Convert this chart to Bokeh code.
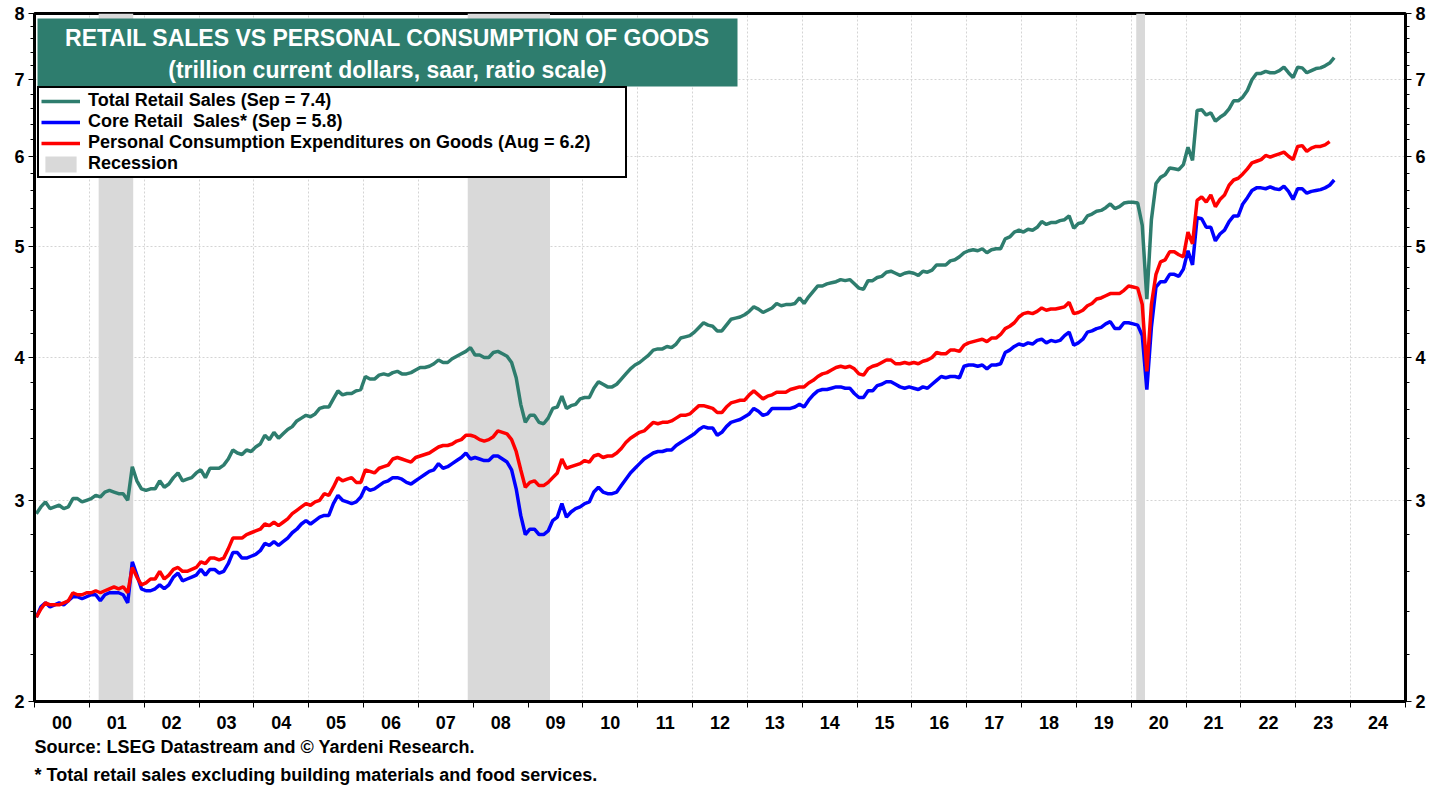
import numpy as np
from bokeh.plotting import figure
from bokeh.models import (FixedTicker, LogAxis, Legend, LegendItem, BoxAnnotation,
                          Label, Title, Range1d, ColumnDataSource)
from bokeh.embed import file_html
from bokeh.resources import INLINE

FONT = "Liberation Sans"
TEAL = "#2E7D6E"
GRAY = "#D9D9D9"

# ---------------- data (monthly, trillion $, saar) ----------------
START_YEAR = 2000  # first month = Jan 2000

total_retail = [
    2.92, 2.96, 2.99, 2.95, 2.96, 2.97, 2.95, 2.96, 3.01, 3.01, 2.99, 3.00,  # 2000
    3.01, 3.03, 3.02, 3.05, 3.06, 3.05, 3.04, 3.04, 3.00, 3.21, 3.12, 3.07,  # 2001
    3.06, 3.07, 3.07, 3.12, 3.08, 3.10, 3.14, 3.17, 3.12, 3.13, 3.14, 3.17,  # 2002
    3.19, 3.14, 3.20, 3.20, 3.20, 3.22, 3.26, 3.32, 3.30, 3.29, 3.32, 3.31,  # 2003
    3.34, 3.36, 3.42, 3.39, 3.44, 3.40, 3.43, 3.46, 3.48, 3.52, 3.54, 3.56,  # 2004
    3.55, 3.57, 3.61, 3.62, 3.62, 3.68, 3.74, 3.71, 3.72, 3.72, 3.74, 3.75,  # 2005
    3.85, 3.83, 3.83, 3.86, 3.87, 3.86, 3.88, 3.89, 3.87, 3.87, 3.88, 3.90,  # 2006
    3.92, 3.92, 3.93, 3.95, 3.98, 3.96, 3.96, 3.99, 4.01, 4.03, 4.05, 4.08,  # 2007
    4.02, 4.02, 4.00, 4.00, 4.04, 4.05, 4.03, 4.01, 3.96, 3.84, 3.64, 3.51,  # 2008
    3.56, 3.56, 3.51, 3.50, 3.54, 3.61, 3.62, 3.70, 3.61, 3.63, 3.64, 3.68,  # 2009
    3.69, 3.69, 3.76, 3.81, 3.79, 3.77, 3.77, 3.79, 3.83, 3.87, 3.91, 3.94,  # 2010
    3.96, 3.99, 4.02, 4.06, 4.07, 4.07, 4.09, 4.08, 4.11, 4.16, 4.17, 4.18,  # 2011
    4.21, 4.25, 4.29, 4.27, 4.26, 4.22, 4.22, 4.27, 4.32, 4.33, 4.34, 4.36,  # 2012
    4.39, 4.43, 4.41, 4.38, 4.40, 4.42, 4.46, 4.44, 4.45, 4.45, 4.46, 4.51,  # 2013
    4.46, 4.52, 4.57, 4.62, 4.62, 4.64, 4.65, 4.66, 4.68, 4.67, 4.68, 4.64,  # 2014
    4.60, 4.59, 4.67, 4.67, 4.70, 4.71, 4.75, 4.76, 4.74, 4.72, 4.74, 4.75,  # 2015
    4.74, 4.72, 4.76, 4.75, 4.77, 4.82, 4.82, 4.82, 4.86, 4.87, 4.90, 4.94,  # 2016
    4.96, 4.97, 4.96, 4.98, 4.94, 4.97, 4.98, 4.98, 5.08, 5.10, 5.15, 5.17,  # 2017
    5.15, 5.18, 5.17, 5.20, 5.26, 5.23, 5.25, 5.25, 5.27, 5.28, 5.32, 5.19,  # 2018
    5.24, 5.25, 5.32, 5.34, 5.37, 5.38, 5.41, 5.45, 5.40, 5.42, 5.46, 5.47,  # 2019
    5.47, 5.46, 5.22, 4.50, 5.28, 5.68, 5.75, 5.78, 5.86, 5.85, 5.84, 5.90,  # 2020
    6.11, 5.95, 6.58, 6.59, 6.52, 6.55, 6.44, 6.49, 6.53, 6.60, 6.71, 6.71,  # 2021
    6.76, 6.85, 7.00, 7.09, 7.09, 7.12, 7.10, 7.10, 7.13, 7.18, 7.10, 7.03,  # 2022
    7.18, 7.17, 7.10, 7.13, 7.16, 7.17, 7.20, 7.24, 7.32,                    # 2023 (to Sep)
]

core_retail = [
    2.37, 2.42, 2.44, 2.42, 2.43, 2.44, 2.43, 2.45, 2.47, 2.47, 2.46, 2.47,  # 2000
    2.48, 2.48, 2.45, 2.48, 2.49, 2.49, 2.49, 2.48, 2.44, 2.65, 2.58, 2.51,  # 2001
    2.50, 2.50, 2.51, 2.53, 2.51, 2.53, 2.57, 2.59, 2.55, 2.56, 2.57, 2.58,  # 2002
    2.61, 2.58, 2.61, 2.61, 2.59, 2.60, 2.64, 2.70, 2.70, 2.67, 2.67, 2.68,  # 2003
    2.69, 2.71, 2.75, 2.74, 2.76, 2.74, 2.76, 2.78, 2.81, 2.83, 2.86, 2.88,  # 2004
    2.86, 2.88, 2.90, 2.91, 2.91, 2.98, 3.03, 3.00, 2.99, 2.98, 2.99, 3.02,  # 2005
    3.08, 3.06, 3.07, 3.09, 3.11, 3.12, 3.14, 3.14, 3.13, 3.11, 3.10, 3.12,  # 2006
    3.14, 3.16, 3.18, 3.19, 3.23, 3.20, 3.21, 3.23, 3.25, 3.27, 3.30, 3.26,  # 2007
    3.27, 3.26, 3.25, 3.25, 3.28, 3.28, 3.26, 3.24, 3.19, 3.07, 2.91, 2.80,  # 2008
    2.83, 2.83, 2.80, 2.80, 2.82, 2.88, 2.90, 2.98, 2.90, 2.93, 2.95, 2.96,  # 2009
    2.98, 2.99, 3.05, 3.08, 3.05, 3.04, 3.04, 3.05, 3.09, 3.13, 3.17, 3.20,  # 2010
    3.23, 3.26, 3.28, 3.30, 3.31, 3.31, 3.32, 3.32, 3.35, 3.37, 3.39, 3.41,  # 2011
    3.43, 3.46, 3.48, 3.47, 3.47, 3.42, 3.44, 3.48, 3.51, 3.52, 3.53, 3.55,  # 2012
    3.57, 3.61, 3.59, 3.56, 3.57, 3.61, 3.61, 3.61, 3.61, 3.61, 3.62, 3.64,  # 2013
    3.62, 3.67, 3.71, 3.74, 3.75, 3.75, 3.76, 3.77, 3.77, 3.76, 3.76, 3.72,  # 2014
    3.69, 3.69, 3.74, 3.74, 3.78, 3.79, 3.81, 3.81, 3.79, 3.77, 3.76, 3.77,  # 2015
    3.76, 3.75, 3.77, 3.76, 3.79, 3.82, 3.85, 3.84, 3.85, 3.85, 3.84, 3.93,  # 2016
    3.94, 3.94, 3.93, 3.94, 3.91, 3.94, 3.94, 3.95, 4.04, 4.06, 4.09, 4.11,  # 2017
    4.10, 4.12, 4.11, 4.14, 4.15, 4.12, 4.14, 4.13, 4.14, 4.18, 4.21, 4.10,  # 2018
    4.12, 4.15, 4.21, 4.22, 4.24, 4.25, 4.28, 4.30, 4.24, 4.24, 4.29, 4.29,  # 2019
    4.28, 4.27, 4.18, 3.75, 4.25, 4.61, 4.66, 4.66, 4.73, 4.73, 4.71, 4.78,  # 2020
    4.96, 4.82, 5.30, 5.29, 5.20, 5.20, 5.06, 5.13, 5.17, 5.26, 5.32, 5.32,  # 2021
    5.45, 5.52, 5.60, 5.63, 5.63, 5.62, 5.64, 5.62, 5.61, 5.65, 5.59, 5.50,  # 2022
    5.62, 5.62, 5.57, 5.59, 5.60, 5.61, 5.63, 5.66, 5.72,                    # 2023 (to Sep)
]

pce_goods = [
    2.37, 2.41, 2.44, 2.43, 2.43, 2.43, 2.44, 2.45, 2.49, 2.48, 2.48, 2.49,  # 2000
    2.49, 2.50, 2.49, 2.50, 2.51, 2.52, 2.51, 2.52, 2.49, 2.62, 2.57, 2.53,  # 2001
    2.54, 2.56, 2.56, 2.60, 2.56, 2.58, 2.61, 2.62, 2.60, 2.60, 2.61, 2.62,  # 2002
    2.65, 2.64, 2.67, 2.67, 2.66, 2.67, 2.72, 2.78, 2.78, 2.78, 2.80, 2.81,  # 2003
    2.82, 2.83, 2.86, 2.85, 2.87, 2.85, 2.87, 2.89, 2.92, 2.94, 2.96, 2.98,  # 2004
    2.97, 2.99, 3.00, 3.04, 3.03, 3.08, 3.14, 3.12, 3.13, 3.14, 3.11, 3.11,  # 2005
    3.19, 3.18, 3.17, 3.20, 3.21, 3.22, 3.26, 3.27, 3.26, 3.25, 3.24, 3.27,  # 2006
    3.28, 3.29, 3.30, 3.32, 3.34, 3.35, 3.35, 3.36, 3.38, 3.39, 3.42, 3.42,  # 2007
    3.41, 3.39, 3.38, 3.39, 3.41, 3.45, 3.44, 3.43, 3.39, 3.31, 3.19, 3.08,  # 2008
    3.11, 3.12, 3.09, 3.09, 3.11, 3.14, 3.17, 3.26, 3.20, 3.21, 3.22, 3.23,  # 2009
    3.25, 3.24, 3.28, 3.29, 3.27, 3.28, 3.28, 3.30, 3.33, 3.37, 3.40, 3.42,  # 2010
    3.44, 3.45, 3.48, 3.51, 3.50, 3.51, 3.51, 3.52, 3.54, 3.56, 3.56, 3.57,  # 2011
    3.60, 3.63, 3.63, 3.62, 3.61, 3.58, 3.58, 3.62, 3.65, 3.66, 3.67, 3.67,  # 2012
    3.71, 3.74, 3.71, 3.68, 3.70, 3.71, 3.73, 3.73, 3.73, 3.75, 3.76, 3.77,  # 2013
    3.77, 3.80, 3.82, 3.85, 3.87, 3.88, 3.90, 3.92, 3.93, 3.92, 3.93, 3.91,  # 2014
    3.87, 3.86, 3.91, 3.93, 3.94, 3.96, 3.98, 3.98, 3.95, 3.95, 3.96, 3.95,  # 2015
    3.96, 3.95, 3.97, 3.98, 4.00, 4.04, 4.03, 4.03, 4.06, 4.06, 4.05, 4.10,  # 2016
    4.12, 4.13, 4.14, 4.15, 4.13, 4.16, 4.16, 4.19, 4.24, 4.26, 4.29, 4.34,  # 2017
    4.37, 4.38, 4.37, 4.39, 4.42, 4.40, 4.41, 4.41, 4.42, 4.43, 4.47, 4.37,  # 2018
    4.38, 4.40, 4.44, 4.46, 4.50, 4.51, 4.53, 4.55, 4.55, 4.55, 4.58, 4.62,  # 2019
    4.61, 4.60, 4.45, 3.89, 4.45, 4.73, 4.85, 4.87, 4.95, 4.95, 4.92, 4.90,  # 2020
    5.15, 5.03, 5.49, 5.53, 5.47, 5.55, 5.42, 5.50, 5.55, 5.66, 5.72, 5.74,  # 2021
    5.79, 5.85, 5.92, 5.94, 5.96, 6.01, 5.99, 6.01, 6.03, 6.05, 6.00, 5.96,  # 2022
    6.12, 6.13, 6.06, 6.10, 6.12, 6.12, 6.14, 6.18,                          # 2023 (to Aug)
]

recession_start = [2001.17, 2007.90, 2020.09]
recession_end = [2001.80, 2009.40, 2020.25]

year_ticks = [2000.5 + i for i in range(25)]
year_labels = ["00", "01", "02", "03", "04", "05", "06", "07", "08", "09", "10", "11",
               "12", "13", "14", "15", "16", "17", "18", "19", "20", "21", "22", "23", "24"]
year_bounds = [2000 + i for i in range(26)]

y_major = [2, 3, 4, 5, 6, 7, 8]
y_minor = [2.2, 2.4, 2.6, 2.8, 3.2, 3.4, 3.6, 3.8, 4.2, 4.4, 4.6, 4.8,
           5.2, 5.4, 5.6, 5.8, 6.2, 6.4, 6.6, 6.8, 7.2, 7.4, 7.6, 7.8]

legend_labels = ["Total Retail Sales (Sep = 7.4)",
                 "Core Retail  Sales* (Sep = 5.8)",
                 "Personal Consumption Expenditures on Goods (Aug = 6.2)",
                 "Recession"]


def month_x(n):
    return [START_YEAR + (i + 0.4) / 12.0 for i in range(n)]


# ---------------- geometry (page pixels) ----------------
FR_LEFT, FR_TOP, FR_W, FR_H = 34, 13, 1371, 688
FR_BOTTOM = FR_TOP + FR_H
X0, X1, Y0, Y1 = 2000, 2025, 2, 8


def px_x(px):
    return X0 + (px - FR_LEFT) * (X1 - X0) / FR_W


def px_y(py):
    return Y0 * (Y1 / Y0) ** ((FR_BOTTOM - py) / FR_H)


p = figure(frame_width=FR_W, frame_height=FR_H,
           x_range=Range1d(X0, X1), y_range=Range1d(Y0, Y1),
           y_axis_type="log", output_backend="svg", toolbar_location=None,
           min_border_left=FR_LEFT, min_border_right=41, min_border_top=FR_TOP,
           min_border_bottom=86,
           background_fill_color="white", border_fill_color="white")

p.outline_line_color = "black"
p.outline_line_width = 3

# recession bars
rec = p.quad(left=recession_start, right=recession_end, bottom=Y0, top=Y1,
             fill_color=GRAY, line_color=None)

src_t = ColumnDataSource(dict(x=month_x(len(total_retail)), y=total_retail))
src_c = ColumnDataSource(dict(x=month_x(len(core_retail)), y=core_retail))
src_p = ColumnDataSource(dict(x=month_x(len(pce_goods)), y=pce_goods))

lt = p.line("x", "y", source=src_t, line_color=TEAL, line_width=3.5)
lc = p.line("x", "y", source=src_c, line_color="#0000FF", line_width=3.5)
lp = p.line("x", "y", source=src_p, line_color="#FF0000", line_width=3.5)

# x axis
xt = FixedTicker(ticks=year_ticks, minor_ticks=year_bounds)
p.xaxis.ticker = xt
p.xaxis.major_label_overrides = {t: l for t, l in zip(year_ticks, year_labels)}
p.xaxis.major_tick_out = 0
p.xaxis.major_tick_in = 0
p.xaxis.minor_tick_out = 6
p.xaxis.minor_tick_in = 0
p.xaxis.minor_tick_line_color = "black"
p.xaxis.minor_tick_line_width = 1
p.xaxis.major_label_standoff = 8
p.xaxis.axis_line_width = 3
p.xaxis.major_label_text_font = FONT
p.xaxis.major_label_text_font_style = "bold"
p.xaxis.major_label_text_font_size = "18px"
p.xaxis.major_label_text_color = "black"

p.xgrid.ticker = xt
p.xgrid.grid_line_color = None
p.xgrid.minor_grid_line_color = "#D4D4D4"
p.xgrid.minor_grid_line_dash = "2 2"
p.xgrid.minor_grid_line_width = 1

# y axes
yt = FixedTicker(ticks=y_major, minor_ticks=y_minor)
ylabels = {v: str(v) for v in y_major}


def style_y(ax):
    ax.ticker = yt
    ax.major_label_overrides = ylabels
    ax.major_tick_out = 6
    ax.major_tick_in = 0
    ax.minor_tick_out = 4
    ax.minor_tick_in = 0
    ax.major_tick_line_color = "black"
    ax.minor_tick_line_color = "black"
    ax.axis_line_width = 3
    ax.major_label_standoff = 4
    ax.major_label_text_font = FONT
    ax.major_label_text_font_style = "bold"
    ax.major_label_text_font_size = "18px"
    ax.major_label_text_color = "black"


style_y(p.yaxis[0])
right_axis = LogAxis()
style_y(right_axis)
p.add_layout(right_axis, "right")

p.ygrid.ticker = yt
p.ygrid.grid_line_color = "#D4D4D4"
p.ygrid.grid_line_dash = "2 2"
p.ygrid.grid_line_width = 1

# title box
p.add_layout(BoxAnnotation(left=px_x(37), right=px_x(737), top=px_y(18), bottom=px_y(86),
                           fill_color=TEAL, fill_alpha=1.0, line_color=None))
p.add_layout(Label(x=px_x(387), y=px_y(37), text="RETAIL SALES VS PERSONAL CONSUMPTION OF GOODS",
                   text_align="center", text_baseline="middle", text_color="white",
                   text_font=FONT, text_font_style="bold", text_font_size="23px"))
p.add_layout(Label(x=px_x(387), y=px_y(69), text="(trillion current dollars, saar, ratio scale)",
                   text_align="center", text_baseline="middle", text_color="white",
                   text_font=FONT, text_font_style="bold", text_font_size="23px"))

# legend
legend = Legend(items=[LegendItem(label=legend_labels[0], renderers=[lt]),
                       LegendItem(label=legend_labels[1], renderers=[lc]),
                       LegendItem(label=legend_labels[2], renderers=[lp]),
                       LegendItem(label=legend_labels[3], renderers=[rec])],
                location=(37 - FR_LEFT, FR_BOTTOM - 178), orientation="vertical",
                border_line_color="black", border_line_width=2, border_line_alpha=1.0,
                background_fill_color="white", background_fill_alpha=1.0,
                padding=2, spacing=0, margin=0,
                glyph_width=39, glyph_height=20, label_height=20, label_standoff=8,
                label_width=535,
                label_text_font=FONT, label_text_font_style="bold",
                label_text_font_size="18px", label_text_color="black")
p.add_layout(legend, "center")

# footnotes
p.add_layout(Title(text="Source: LSEG Datastream and \u00a9 Yardeni Research.", align="left",
                   text_font=FONT, text_font_style="bold", text_font_size="18px",
                   text_color="black", standoff=7), "below")
p.add_layout(Title(text="* Total retail sales excluding building materials and food services.",
                   align="left", text_font=FONT, text_font_style="bold", text_font_size="18px",
                   text_color="black", standoff=4), "below")

open("out.html", "w").write(file_html(p, INLINE))
